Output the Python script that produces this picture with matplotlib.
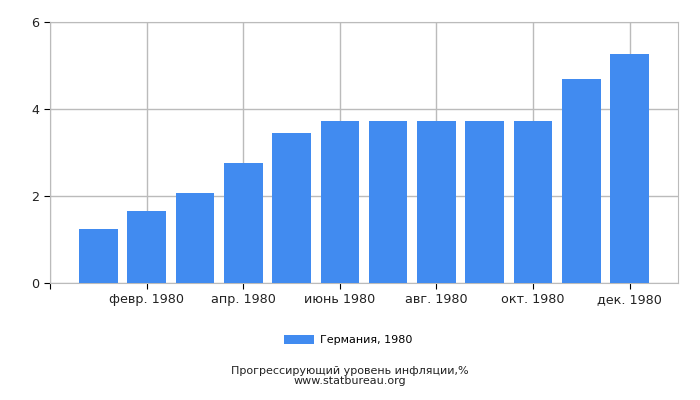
import numpy as np
import matplotlib
matplotlib.use('Agg')
import matplotlib.pyplot as plt

months = ['янв. 1980', 'февр. 1980', 'март 1980', 'апр. 1980', 'май 1980', 'июнь 1980',
          'июль 1980', 'авг. 1980', 'сент. 1980', 'окт. 1980', 'нояб. 1980', 'дек. 1980']
values = [1.24, 1.66, 2.07, 2.76, 3.45, 3.72, 3.72, 3.72, 3.72, 3.72, 4.69, 5.26]
series_name = 'Германия, 1980'

fig = plt.figure(figsize=(7, 4), dpi=100)
ax = fig.add_axes([50/700, 117/400, 628/700, 261/400])

x = np.arange(len(months))
ax.bar(x, values, width=0.8, color='#418bf0', label=series_name, zorder=3)

ax.set_xlim(-1, 12)
ax.set_ylim(0, 6)
ax.set_yticks([0, 2, 4, 6])
ticks = [-1] + list(x[1::2])
ax.set_xticks(ticks)
ax.set_xticklabels([''] + months[1::2])
ax.grid(True, color='#bbbbbb', linewidth=1, zorder=0)
for s in ax.spines.values():
    s.set_color('#bbbbbb')
ax.tick_params(direction='out', length=4, color='black', labelsize=9.2, labelcolor='#222222')

ax.legend(loc='center', bbox_to_anchor=(348/700, 0.15), bbox_transform=fig.transFigure,
          frameon=False, fontsize=8, handlelength=2.7, handleheight=0.9, handletextpad=0.5)

fig.text(0.5, 1 - 371/400, 'Прогрессирующий уровень инфляции,%', ha='center', va='center',
         fontsize=8, color='#222222')
fig.text(0.5, 1 - 381/400, 'www.statbureau.org', ha='center', va='center',
         fontsize=8, color='#222222')

plt.savefig('out.png')
